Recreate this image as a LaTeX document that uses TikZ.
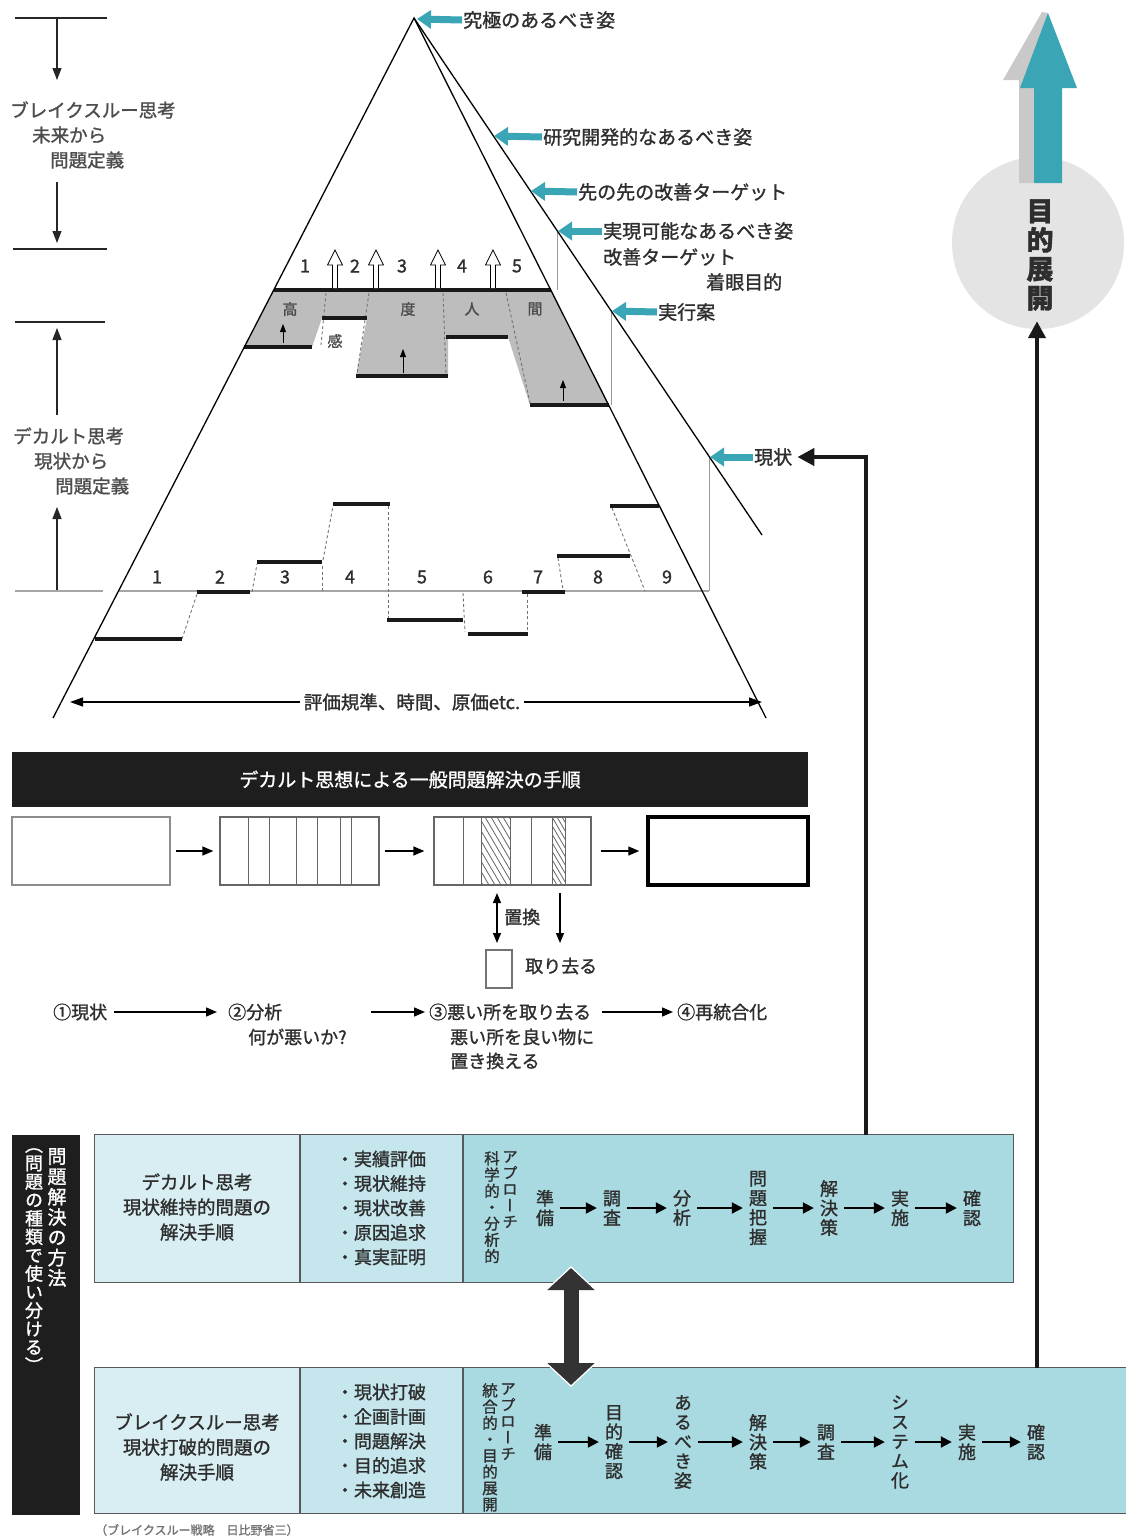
\documentclass[tikz,border=0pt]{standalone}
\usepackage{fontspec}
\setmainfont{Noto Sans CJK JP}[FakeBold=1.3]
\newfontfamily\jpv{Noto Sans CJK JP}[RawFeature=+vert,FakeBold=1.3]
\usetikzlibrary{arrows.meta,calc}
\definecolor{txt}{HTML}{2E2E2E}
\definecolor{tealA}{HTML}{3AA5B4}
\definecolor{shadowG}{HTML}{C9C9C9}
\definecolor{circG}{HTML}{E4E4E4}
\definecolor{stairG}{HTML}{BDBDBD}
\definecolor{cellA}{HTML}{D8EEF2}
\definecolor{cellB}{HTML}{C4E6EC}
\definecolor{cellC}{HTML}{A9DAE1}
\definecolor{barK}{HTML}{1E1E1E}
\newcommand\fsz[2]{\fontsize{#1}{#2}\selectfont}
\begin{document}
\begin{tikzpicture}[x=1pt,y=-1pt,
  lab/.style={font=\fsz{19}{21}, text=txt, inner sep=1pt, anchor=west},
  llab/.style={font=\fsz{18.5}{20}, text=txt!85, inner sep=0pt, anchor=west},
  pyr/.style={line width=1.3pt, draw=black},
  thinv/.style={line width=1pt, draw=black!40},
  bar/.style={line width=4.5pt, draw=black!90},
  dsh/.style={line width=0.9pt, draw=black!55, dash pattern=on 3pt off 2.5pt},
  num/.style={font=\fsz{18}{20}, text=txt},
  gtx/.style={font=\fsz{15}{16}, text=black!70},
  tealarr/.style={line width=7pt, draw=tealA, -{Triangle[width=18pt,length=14pt]}},
  larr/.style={line width=1.2pt, draw=black!85, -{Triangle[width=9pt,length=12pt]}},
  conn/.style={line width=4.5pt, draw=black!90, -{Triangle[width=17pt,length=17pt]}},
  stp/.style={font=\fsz{18}{24}, text=txt, inner sep=1pt, anchor=west, align=left},
  sarr/.style={line width=1.4pt, -{Triangle[width=9pt,length=11pt]}},
  vst/.style={font=\jpv\fsz{18}{19.5}, text=txt, align=center, inner xsep=6pt, inner ysep=0pt},
  vsm/.style={font=\jpv\fsz{15.5}{16.3}, text=txt, align=center, inner sep=0pt, anchor=north},
  tarr/.style={line width=2pt, -{Triangle[width=11pt,length=11pt]}},
  tline/.style={line width=1.1pt, draw=black!65},
]
\useasboundingbox (0,0) rectangle (1125,1540);
\fill[white] (0,0) rectangle (1125,1540);

% ---------------- pyramid ----------------
\coordinate (apex) at (414,18);
\coordinate (bl) at (53,718);
\coordinate (br) at (766,718);
\coordinate (ob) at (762,535);

% upper staircase (gray)
\fill[stairG] (274,290) -- (551,290) -- (609,405) -- (530,405) -- (508,337) -- (448,337)
  -- (448,376) -- (356,376) -- (367,318) -- (322,318) -- (312,347) -- (244,347) -- cycle;
\draw[dsh] (326,293) -- (321,345);
\draw[dsh] (369,293) -- (357,374);
\draw[dsh] (443,293) -- (446,374);
\draw[dsh] (506,293) -- (530,403);
\draw[bar] (274,290) -- (551,290);
\draw[bar] (244,347) -- (312,347);
\draw[bar] (322,318) -- (367,318);
\draw[bar] (356,376) -- (448,376);
\draw[bar] (446,337) -- (508,337);
\draw[bar] (530,405) -- (609,405);
\foreach \x in {335,376,438,493}
  \draw[fill=white, line width=0.8pt] (\x-2.5,288) -- (\x-2.5,265) -- (\x-7.5,265) -- (\x,250)
     -- (\x+7.5,265) -- (\x+2.5,265) -- (\x+2.5,288);
\foreach \n/\x in {1/305,2/355,3/402,4/462,5/517}
  \node[num] (h\n) at (\x,266) {\n};
\foreach \x/\ya/\yb in {283/343/324, 403/373/349, 563/401/380}
  \draw[line width=0.8pt, -{Triangle[width=6pt,length=8pt]}] (\x,\ya) -- (\x,\yb);
\node[gtx] (g1) at (290,309) {高};
\node[gtx] (g2) at (335,341) {感};
\node[gtx] (g3) at (408,309) {度};
\node[gtx] (g4) at (472,309) {人};
\node[gtx] (g5) at (535,309) {間};

% lower staircase
\draw[line width=1.2pt, draw=black!35] (118,591) -- (709,591);
\draw[dsh] (182,639) -- (197,594);
\draw[dsh] (252,592) -- (257,564);
\draw[dsh] (322,591) -- (322,564);
\draw[dsh] (323,560) -- (333,506);
\draw[dsh] (388,506) -- (388,618);
\draw[dsh] (463,593) -- (465,632);
\draw[dsh] (527,594) -- (527,632);
\draw[dsh] (558,558) -- (563,590);
\draw[dsh] (612,508) -- (645,591);
\foreach \a/\b/\y in {95/182/639, 197/250/592, 257/322/562, 333/390/504, 387/463/620,
    468/528/634, 522/565/592, 557/630/556, 610/659/506}
  \draw[bar] (\a,\y) -- (\b,\y);
\foreach \n/\x in {1/157,2/220,3/285,4/350,5/422,6/488,7/538,8/598,9/667}
  \node[num] (k\n) at (\x,577) {\n};

% thin verticals from the outer line
\draw[thinv] (557.5,231) -- (557.5,290);
\draw[thinv] (611.5,311) -- (611.5,405);
\draw[thinv] (709,457) -- (709,591);

% pyramid lines
\draw[pyr] (bl) -- (apex) -- (br);
\draw[pyr] (apex) -- (ob);

% bottom axis
\node[font=\fsz{18.5}{20}, text=txt, inner sep=4pt] (axis) at (412,702) {評価規準、時間、原価etc.};
\draw[line width=1.2pt, -{Triangle[width=9pt,length=13pt]}] (axis.west) -- (70,702);
\draw[line width=1.2pt, -{Triangle[width=9pt,length=13pt]}] (axis.east) -- (762,702);

% right labels with teal arrows
\coordinate (t0) at (417,19);
\coordinate (t1) at (494,136);
\coordinate (t2) at (531,191);
\coordinate (t3) at (558,231);
\coordinate (t4) at (612,311);
\coordinate (t5) at (710,457);
\node[lab] (r0) at (462,20) {究極のあるべき姿};
\node[lab] (r1) at (542,137) {研究開発的なあるべき姿};
\node[lab] (r2) at (577,192) {先の先の改善ターゲット};
\node[lab] (r3) at (602,231) {実現可能なあるべき姿};
\node[lab] (r3b) at (602,257) {改善ターゲット};
\node[lab] (r3c) at (705,282) {着眼目的};
\node[lab] (r4) at (657,312) {実行案};
\node[lab] (r5) at (753,457) {現状};
\draw[tealarr] (r0.west) -- (t0);
\draw[tealarr] (r1.west) -- (t1);
\draw[tealarr] (r2.west) -- (t2);
\draw[tealarr] (r3.west) -- (t3);
\draw[tealarr] (r4.west) -- (t4);
\draw[tealarr] (r5.west) -- (t5);

% left labels
\draw[line width=1.2pt, black!85] (15,18) -- (107,18);
\draw[larr] (57,18) -- (57,80);
\node[llab] (bt1) at (10,110) {ブレイクスルー思考};
\node[llab] (bt2) at (32,135) {未来から};
\node[llab] (bt3) at (50,160) {問題定義};
\draw[larr] (57,182) -- (57,243);
\draw[line width=1.2pt, black!85] (13,249) -- (107,249);

\draw[line width=1.2pt, black!85] (15,322) -- (105,322);
\draw[larr] (57,415) -- (57,328);
\node[llab] (dc1) at (13,436) {デカルト思考};
\node[llab] (dc2) at (34,461) {現状から};
\node[llab] (dc3) at (55,486) {問題定義};
\draw[larr] (57,591) -- (57,507);
\draw[line width=1.2pt, draw=black!35] (15,591) -- (103,591);

% ---------------- purpose circle ----------------
\node[circle, fill=circG, minimum size=172pt, inner sep=0pt] (circ) at (1038,243) {};
\fill[shadowG] (1019,183) -- (1019,80) -- (1003,80) -- (1042,12) -- (1048,13) -- (1034,88) -- (1034,183) -- cycle;
\fill[tealA] (1034,183) -- (1034,88) -- (1020,88) -- (1048,13) -- (1077,88) -- (1062,88) -- (1062,183) -- cycle;
\node[font=\jpv\bfseries\fsz{27}{29}, align=center, text=txt, inner sep=0pt] (mk) at (1040,255) {目\\的\\展\\開};

% ---------------- Descartes procedure ----------------
\node[fill=barK, minimum width=796pt, minimum height=55pt, text=white, font=\fsz{19}{21}, inner sep=0pt] (hdr) at (410,779.5) {デカルト思想による一般問題解決の手順};
\node[draw=black!45, line width=2pt, minimum width=158pt, minimum height=68pt, inner sep=0pt] (box1) at (91,851) {};
\node[draw=black!60, line width=1.3pt, minimum width=159pt, minimum height=68pt, inner sep=0pt] (box2) at (299.5,851) {};
\node[draw=black!60, line width=1.3pt, minimum width=157pt, minimum height=68pt, inner sep=0pt] (box3) at (512.5,851) {};
\node[draw=black, line width=3.5pt, minimum width=160pt, minimum height=68pt, inner sep=0pt] (box4) at (728,851) {};
\foreach \x in {248,269,296,317,340,351}
  \draw[line width=1pt, black!60] (\x,817) -- (\x,885);
\begin{scope}
  \clip (481,817) rectangle (510,885);
  \foreach \i in {-80,-74,...,40}
    \draw[line width=0.8pt, black!60] (481+\i,817) -- (521+\i,885);
\end{scope}
\begin{scope}
  \clip (552,817) rectangle (565,885);
  \foreach \i in {-50,-45,...,20}
    \draw[line width=0.8pt, black!60] (552+\i,817) -- (592+\i,885);
\end{scope}
\foreach \x in {463,481,510,531,552,565}
  \draw[line width=1pt, black!60] (\x,817) -- (\x,885);
\draw[sarr] ([xshift=5pt]box1.east) -- ([xshift=-6pt]box2.west);
\draw[sarr] ([xshift=5pt]box2.east) -- ([xshift=-9pt]box3.west);
\draw[sarr] ([xshift=9pt]box3.east) -- ([xshift=-7pt]box4.west);

\coordinate (sw1) at (497,893);
\coordinate (sw2) at (497,943);
\coordinate (rm1) at (560,893);
\coordinate (rm2) at (560,943);
\draw[line width=1.3pt, {Triangle[width=8pt,length=10pt]}-{Triangle[width=8pt,length=10pt]}] (sw1) -- (sw2);
\draw[line width=1.3pt, -{Triangle[width=8pt,length=10pt]}] (rm1) -- (rm2);
\node[draw=black!55, line width=1.2pt, minimum width=26pt, minimum height=38pt, inner sep=0pt] (piece) at (499,969) {};
\node[stp] (chikan) at (503,917) {置換};
\node[stp] (torisaru) at (524,966) {取り去る};

\node[stp] (s1) at (52,1012) {①現状};
\node[stp] (s2) at (227,1012) {②分析};
\node[stp] (s2b) at (247,1037) {何が悪いか?};
\node[stp] (s3) at (428,1012) {③悪い所を取り去る};
\node[stp] (s3b) at (449,1037) {悪い所を良い物に};
\node[stp] (s3c) at (449,1061) {置き換える};
\node[stp] (s4) at (676,1012) {④再統合化};
\draw[sarr] ([xshift=6pt]s1.east) -- ([xshift=-10pt]s2.west);
\draw[sarr] (371,1012) -- ([xshift=-3pt]s3.west);
\draw[sarr] ([xshift=10pt]s3.east) -- ([xshift=-3pt]s4.west);

% ---------------- bottom table ----------------
\node[fill=barK, minimum width=68pt, minimum height=380pt, inner sep=0pt] (vbar) at (46,1325) {};
\node[font=\jpv\fsz{19}{20.3}, text=white, align=center, inner sep=0pt, anchor=north] (vb1) at (57,1148) {問\\題\\解\\決\\の\\方\\法};
\node[font=\jpv\fsz{18}{18.4}, text=white, align=center, inner sep=0pt, anchor=north] (vb2) at (34,1148) {（\\問\\題\\の\\種\\類\\で\\使\\い\\分\\け\\る\\）};

% upper box
\node[fill=cellC, minimum width=918pt, minimum height=147pt, inner sep=0pt] (upbox) at (554,1208.5) {};
\fill[cellA] (95,1135) rectangle (300,1282);
\fill[cellB] (300,1135) rectangle (463,1282);
\draw[tline] (upbox.south west) rectangle (upbox.north east);
\draw[tline] (300,1135) -- (300,1282);
\draw[tline] (463,1135) -- (463,1282);

% lower box
\node[fill=cellC, minimum width=1031pt, minimum height=145pt, inner sep=0pt] (lowbox) at (610.5,1440.5) {};
\fill[cellA] (95,1368) rectangle (300,1513);
\fill[cellB] (300,1368) rectangle (463,1513);
\draw[tline] (lowbox.south west) rectangle (lowbox.north east);
\draw[tline] (300,1368) -- (300,1513);
\draw[tline] (463,1368) -- (463,1513);

\node[font=\fsz{18.5}{25}, text=txt, align=center, inner sep=0pt] (ul) at (197,1207) {デカルト思考\\現状維持的問題の\\解決手順};
\node[font=\fsz{18}{24.5}, text=txt, align=left, inner sep=0pt] (um) at (381,1208) {・実績評価\\・現状維持\\・現状改善\\・原因追求\\・真実証明};
\node[font=\fsz{18.5}{25}, text=txt, align=center, inner sep=0pt] (ll) at (197,1447) {ブレイクスルー思考\\現状打破的問題の\\解決手順};
\node[font=\fsz{18}{24.5}, text=txt, align=left, inner sep=0pt] (lm) at (381,1441) {・現状打破\\・企画計画\\・問題解決\\・目的追求\\・未来創造};

\node[vsm] (ua1) at (510,1151) {ア\\プ\\ロ\\ー\\チ};
\node[vsm] (ua2) at (492,1151) {科\\学\\的\\・\\分\\析\\的};
\node[vsm] (la1) at (508,1383) {ア\\プ\\ロ\\ー\\チ};
\node[vsm] (la2) at (490,1383) {統\\合\\的\\・\\目\\的\\展\\開};

\node[vst] (u1) at (545,1208) {準\\備};
\node[vst] (u2) at (612,1208) {調\\査};
\node[vst] (u3) at (682,1208) {分\\析};
\node[vst] (u4) at (758,1208) {問\\題\\把\\握};
\node[vst] (u5) at (829,1208) {解\\決\\策};
\node[vst] (u6) at (900,1208) {実\\施};
\node[vst] (u7) at (972,1208) {確\\認};
\foreach \a/\b in {u1/u2,u2/u3,u3/u4,u4/u5,u5/u6,u6/u7}
  \draw[tarr] (\a.east) -- (\b.west);

\node[vst] (l1) at (543,1442) {準\\備};
\node[vst] (l2) at (614,1442) {目\\的\\確\\認};
\node[vst] (l3) at (683,1442) {あ\\る\\べ\\き\\姿};
\node[vst] (l4) at (758,1442) {解\\決\\策};
\node[vst] (l5) at (826,1442) {調\\査};
\node[vst] (l6) at (900,1442) {シ\\ス\\テ\\ム\\化};
\node[vst] (l7) at (967,1442) {実\\施};
\node[vst] (l8) at (1036,1442) {確\\認};
\foreach \a/\b in {l1/l2,l2/l3,l3/l4,l4/l5,l5/l6,l6/l7,l7/l8}
  \draw[tarr] (\a.east) -- (\b.west);

% double block arrow between the boxes
\coordinate (da1) at (571,1268);
\coordinate (da2) at (571,1385);
\draw[line width=20pt, draw=white, {Triangle[width=54pt,length=26pt]}-{Triangle[width=54pt,length=26pt]}] ($(da1)+(0,-2)$) -- ($(da2)+(0,2)$);
\draw[line width=15pt, draw=black!80, {Triangle[width=46pt,length=22pt]}-{Triangle[width=46pt,length=22pt]}] (da1) -- (da2);

\node[font=\fsz{12}{13}, text=black!55, anchor=west, inner sep=0pt] (cap) at (95,1530) {（ブレイクスルー戦略　日比野省三）};

% ---------------- main connectors ----------------
\draw[conn] (upbox.north -| 866,0) |- ([xshift=4pt]r5.east);
\draw[conn] (lowbox.north -| 1037,0) -- ([yshift=8pt]circ.south -| 1037,0);
\end{tikzpicture}
\end{document}
